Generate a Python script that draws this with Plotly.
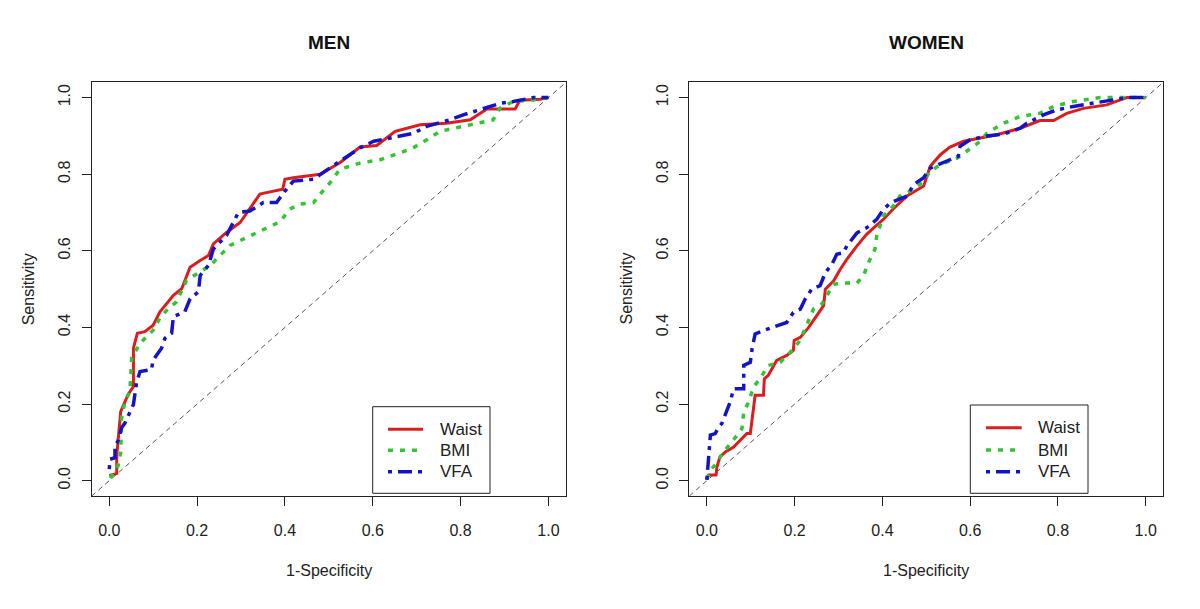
import plotly.graph_objects as go

# ---------------- data ----------------
men_waist_x = [0.0, 0.017, 0.017, 0.026, 0.043, 0.055, 0.055, 0.064, 0.081, 0.1, 0.115, 0.146, 0.165, 0.184,
               0.207, 0.226, 0.237, 0.267, 0.298, 0.32, 0.343, 0.358, 0.395, 0.4, 0.419, 0.48, 0.525, 0.571,
               0.609, 0.651, 0.708, 0.768, 0.822, 0.86, 0.924, 0.935, 0.981, 1.0]
men_waist_y = [0.013, 0.019, 0.065, 0.18, 0.225, 0.246, 0.346, 0.385, 0.389, 0.406, 0.44, 0.484, 0.501, 0.557,
               0.575, 0.588, 0.618, 0.648, 0.674, 0.709, 0.748, 0.752, 0.761, 0.787, 0.791, 0.8, 0.83, 0.871,
               0.875, 0.912, 0.929, 0.933, 0.942, 0.97, 0.97, 0.993, 0.996, 1.0]

men_bmi_x = [0.002, 0.02, 0.026, 0.028, 0.036, 0.047, 0.051, 0.07, 0.1, 0.115, 0.134, 0.153, 0.176, 0.207,
             0.23, 0.248, 0.275, 0.313, 0.336, 0.358, 0.389, 0.411, 0.434, 0.465, 0.48, 0.503, 0.525, 0.571,
             0.617, 0.662, 0.692, 0.723, 0.753, 0.806, 0.837, 0.874, 0.889, 0.92, 0.966, 1.0]
men_bmi_y = [0.007, 0.039, 0.073, 0.164, 0.207, 0.233, 0.32, 0.359, 0.393, 0.424, 0.449, 0.467, 0.523, 0.545,
             0.562, 0.583, 0.614, 0.635, 0.648, 0.661, 0.676, 0.709, 0.722, 0.726, 0.748, 0.778, 0.813, 0.829,
             0.838, 0.856, 0.869, 0.89, 0.912, 0.925, 0.933, 0.942, 0.972, 0.99, 0.994, 1.0]

men_vfa_x = [0.0, 0.002, 0.013, 0.013, 0.02, 0.028, 0.036, 0.047, 0.055, 0.062, 0.07, 0.096, 0.1, 0.119,
             0.127, 0.142, 0.146, 0.172, 0.184, 0.203, 0.207, 0.226, 0.237, 0.267, 0.294, 0.32, 0.351, 0.381,
             0.4, 0.419, 0.465, 0.503, 0.541, 0.571, 0.602, 0.64, 0.693, 0.723, 0.776, 0.806, 0.845, 0.89,
             0.92, 0.966, 1.0]
men_vfa_y = [0.03, 0.056, 0.06, 0.091, 0.104, 0.138, 0.151, 0.177, 0.199, 0.255, 0.285, 0.29, 0.315, 0.346,
             0.372, 0.385, 0.428, 0.441, 0.475, 0.493, 0.536, 0.562, 0.605, 0.64, 0.7, 0.704, 0.726, 0.726,
             0.756, 0.782, 0.787, 0.817, 0.847, 0.869, 0.886, 0.894, 0.907, 0.925, 0.942, 0.955, 0.968, 0.985,
             0.99, 1.0, 1.0]

women_waist_x = [0.0, 0.004, 0.021, 0.023, 0.03, 0.042, 0.061, 0.091, 0.099, 0.106, 0.11, 0.129, 0.131, 0.14,
                 0.159, 0.182, 0.197, 0.199, 0.213, 0.232, 0.251, 0.266, 0.27, 0.289, 0.304, 0.319, 0.342,
                 0.364, 0.38, 0.402, 0.425, 0.456, 0.494, 0.509, 0.532, 0.554, 0.585, 0.623, 0.661, 0.714,
                 0.759, 0.79, 0.82, 0.858, 0.911, 0.942, 0.957, 1.0]
women_waist_y = [0.004, 0.015, 0.015, 0.036, 0.062, 0.075, 0.088, 0.123, 0.123, 0.179, 0.223, 0.223, 0.266,
                 0.275, 0.314, 0.327, 0.34, 0.366, 0.374, 0.4, 0.431, 0.457, 0.5, 0.522, 0.552, 0.578, 0.613,
                 0.643, 0.66, 0.682, 0.71, 0.743, 0.769, 0.821, 0.851, 0.871, 0.886, 0.894, 0.903, 0.92,
                 0.94, 0.94, 0.959, 0.972, 0.981, 0.994, 1.0, 1.0]

women_bmi_x = [0.0, 0.008, 0.019, 0.038, 0.057, 0.08, 0.084, 0.095, 0.106, 0.121, 0.14, 0.167, 0.19, 0.209,
               0.22, 0.232, 0.243, 0.262, 0.277, 0.289, 0.319, 0.342, 0.357, 0.368, 0.383, 0.387, 0.402, 0.425,
               0.44, 0.471, 0.494, 0.509, 0.532, 0.57, 0.592, 0.623, 0.638, 0.676, 0.714, 0.759, 0.79, 0.835,
               0.896, 1.0]
women_bmi_y = [0.004, 0.028, 0.041, 0.075, 0.101, 0.136, 0.179, 0.205, 0.244, 0.266, 0.301, 0.309, 0.335,
               0.361, 0.387, 0.422, 0.448, 0.461, 0.491, 0.513, 0.516, 0.516, 0.535, 0.569, 0.604, 0.639,
               0.691, 0.717, 0.743, 0.76, 0.782, 0.808, 0.825, 0.842, 0.86, 0.886, 0.907, 0.933, 0.951,
               0.959, 0.977, 0.99, 1.0, 1.0]

women_vfa_x = [0.0, 0.002, 0.004, 0.008, 0.019, 0.027, 0.034, 0.042, 0.053, 0.061, 0.084, 0.084, 0.099, 0.103,
               0.11, 0.129, 0.159, 0.182, 0.197, 0.213, 0.224, 0.239, 0.258, 0.27, 0.285, 0.296, 0.311, 0.319,
               0.342, 0.364, 0.387, 0.402, 0.418, 0.456, 0.471, 0.494, 0.509, 0.536, 0.554, 0.573, 0.577,
               0.6, 0.638, 0.676, 0.714, 0.729, 0.767, 0.797, 0.835, 0.881, 0.919, 0.957, 1.0]
women_vfa_y = [0.002, 0.032, 0.067, 0.119, 0.123, 0.14, 0.149, 0.171, 0.205, 0.24, 0.24, 0.301, 0.309, 0.344,
               0.383, 0.392, 0.405, 0.413, 0.439, 0.448, 0.474, 0.5, 0.509, 0.543, 0.565, 0.591, 0.595, 0.613,
               0.647, 0.66, 0.682, 0.708, 0.725, 0.743, 0.773, 0.791, 0.816, 0.829, 0.838, 0.847, 0.873,
               0.89, 0.9, 0.905, 0.92, 0.933, 0.955, 0.968, 0.977, 0.986, 0.993, 1.0, 1.0]

diag = [-0.04, 1.04]
tick_vals = [0.0, 0.2, 0.4, 0.6, 0.8, 1.0]
tick_text = ["0.0", "0.2", "0.4", "0.6", "0.8", "1.0"]
series_names = ["Waist", "BMI", "VFA"]
panel_titles = ["MEN", "WOMEN"]

# ---------------- styling ----------------
W, H = 1200, 609
FONT = "Liberation Sans, Arial, sans-serif"
INK = "#222222"
RED, GREEN, BLUE = "#D81E1E", "#35C235", "#1414C4"
styles = [
    dict(color=RED, width=3, dash="solid"),
    dict(color=GREEN, width=3.5, dash="5px,7px"),
    dict(color=BLUE, width=3.5, dash="4px,6px,14px,6px"),
]


def px_x(p):
    return p / W


def px_y(p):
    return 1 - p / H


fig = go.Figure()

panels = [
    ("x", "y", [men_waist_x, men_bmi_x, men_vfa_x], [men_waist_y, men_bmi_y, men_vfa_y]),
    ("x2", "y2", [women_waist_x, women_bmi_x, women_vfa_x], [women_waist_y, women_bmi_y, women_vfa_y]),
]

for xa, ya, xs, ys in panels:
    fig.add_trace(go.Scatter(x=diag, y=diag, mode="lines", xaxis=xa, yaxis=ya, showlegend=False,
                             line=dict(color="#555555", width=1, dash="5px,4px"), hoverinfo="skip"))
    for name, sx, sy, st in zip(series_names, xs, ys, styles):
        fig.add_trace(go.Scatter(x=sx, y=sy, mode="lines", name=name, xaxis=xa, yaxis=ya,
                                 showlegend=False, line=dict(shape="linear", **st)))

axis_common = dict(range=[-0.04, 1.04], showgrid=False, zeroline=False, showline=True, mirror=True,
                   linecolor=INK, linewidth=1, ticks="outside", ticklen=9, tickwidth=1,
                   tickcolor=INK, tickvals=tick_vals, ticktext=tick_text,
                   tickfont=dict(family=FONT, size=16, color=INK))

yb, yt = px_y(496), px_y(82.3)
fig.update_layout(
    width=W, height=H, paper_bgcolor="white", plot_bgcolor="white",
    margin=dict(l=0, r=0, t=0, b=0),
    font=dict(family=FONT, color=INK),
    showlegend=False,
    xaxis=dict(domain=[px_x(91.7), px_x(566)], anchor="y", ticklabelstandoff=11, **axis_common),
    yaxis=dict(domain=[yb, yt], anchor="x", tickangle=-90, ticklabelstandoff=5, **axis_common),
    xaxis2=dict(domain=[px_x(689.3), px_x(1163.3)], anchor="y2", ticklabelstandoff=11, **axis_common),
    yaxis2=dict(domain=[yb, yt], anchor="x2", tickangle=-90, ticklabelstandoff=5, **axis_common),
)

annotations = []
shapes = []
# per panel: title centre x, y-label x, legend box (x0, y0, x1, y1), sample x0, x1, text x, row ys
panel_layout = [
    (328.9, 28.3, (372.7, 406.7, 490.0, 493.3), 388.0, 423.0, 438.3, [429.3, 450.3, 471.7]),
    (926.3, 625.5, (970.3, 405.0, 1088.0, 493.3), 986.0, 1021.7, 1036.0, [427.8, 450.0, 471.7]),
]
for title, (cx, ylab_x, box, sx0, sx1, tx, rows) in zip(panel_titles, panel_layout):
    annotations.append(dict(text="<b>" + title + "</b>", x=px_x(cx), y=px_y(42.7), xref="paper", yref="paper",
                            showarrow=False, xanchor="center", yanchor="middle",
                            font=dict(family=FONT, size=19, color="#111111")))
    annotations.append(dict(text="1-Specificity", x=px_x(cx), y=px_y(570), xref="paper", yref="paper",
                            showarrow=False, xanchor="center", yanchor="middle",
                            font=dict(family=FONT, size=16, color=INK)))
    annotations.append(dict(text="Sensitivity", x=px_x(ylab_x), y=px_y(289), xref="paper", yref="paper",
                            showarrow=False, xanchor="center", yanchor="middle", textangle=-90,
                            font=dict(family=FONT, size=16, color=INK)))
    # legend box
    shapes.append(dict(type="rect", xref="paper", yref="paper", x0=px_x(box[0]), x1=px_x(box[2]),
                       y0=px_y(box[3]), y1=px_y(box[1]), line=dict(color=INK, width=1),
                       fillcolor="white", layer="above"))
    for name, st, ry in zip(series_names, styles, rows):
        shapes.append(dict(type="line", xref="paper", yref="paper", x0=px_x(sx0), x1=px_x(sx1),
                           y0=px_y(ry), y1=px_y(ry), line=dict(color=st["color"], width=st["width"],
                                                               dash=st["dash"]), layer="above"))
        annotations.append(dict(text=name, x=px_x(tx), y=px_y(ry), xref="paper", yref="paper",
                                showarrow=False, xanchor="left", yanchor="middle",
                                font=dict(family=FONT, size=17, color=INK)))

fig.update_layout(annotations=annotations, shapes=shapes)

fig.write_html("out.html", config={"displayModeBar": False},
               post_script="document.body.style.margin='0px';")
